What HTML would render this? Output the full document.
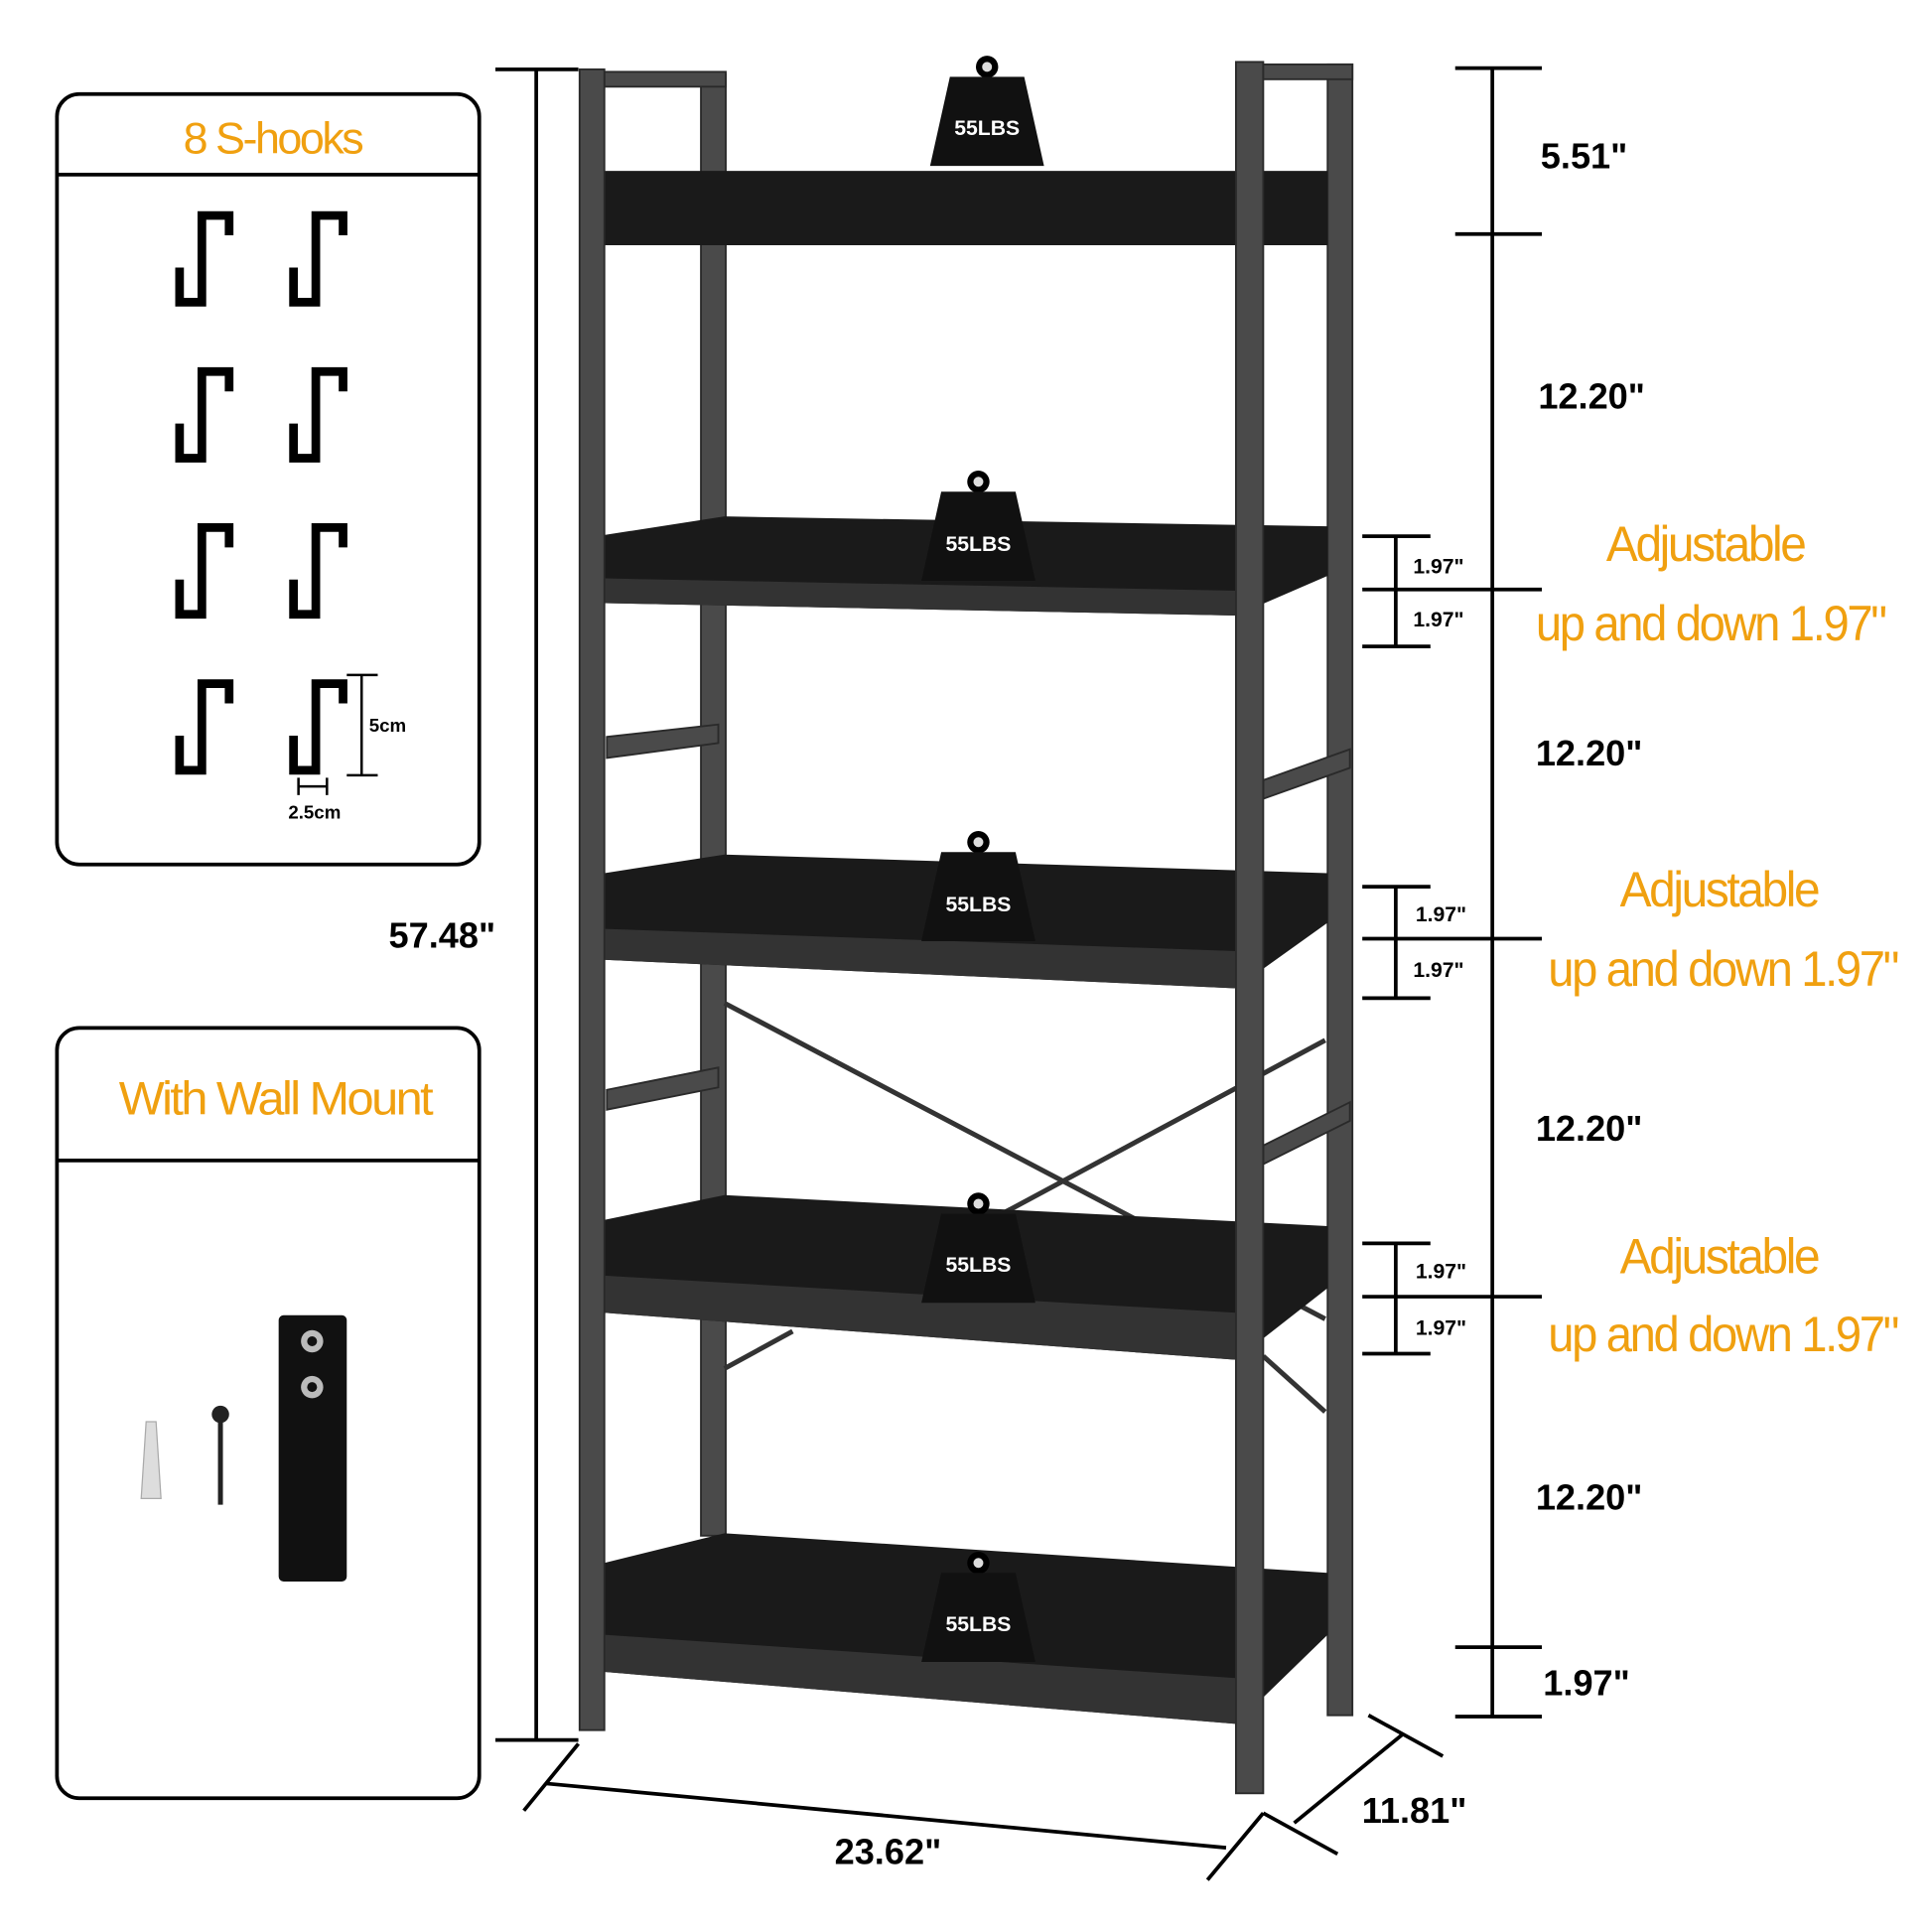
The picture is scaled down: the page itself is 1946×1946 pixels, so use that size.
<!DOCTYPE html>
<html><head><meta charset="utf-8"><style>
html,body{margin:0;padding:0;background:#fff;width:1946px;height:1946px;overflow:hidden}
svg{display:block}
.b{font-family:"Liberation Sans",sans-serif;font-weight:bold;fill:#000}
.o{font-family:"Liberation Sans Narrow","Liberation Sans",sans-serif;fill:#f0a010;letter-spacing:-2px}
.w{font-family:"Liberation Sans",sans-serif;font-weight:bold;fill:#fff;font-size:17px}
</style></head><body>
<svg width="1946" height="1946" viewBox="0 0 1560 1560" xmlns="http://www.w3.org/2000/svg">
<defs>
<g id="hook"><path d="M0,48 L0,76 L18,76 L18,6 L40,6 L40,22" fill="none" stroke="#000" stroke-width="7"/></g>
<g id="wt"><circle cx="0" cy="-8" r="9" fill="#000"/><circle cx="0" cy="-8" r="4" fill="#ddd"/><path d="M-30,0 L30,0 L46,72 L-46,72 Z" fill="#111"/></g>
</defs>
<!-- box 1 -->
<rect x="46" y="76" width="341" height="622" rx="18" fill="none" stroke="#000" stroke-width="3"/>
<line x1="46" y1="141" x2="387" y2="141" stroke="#000" stroke-width="3"/>
<text class="o" x="220" y="124" font-size="36" text-anchor="middle">8 S-hooks</text>
<use href="#hook" x="145" y="168"/><use href="#hook" x="237" y="168"/>
<use href="#hook" x="145" y="294"/><use href="#hook" x="237" y="294"/>
<use href="#hook" x="145" y="420"/><use href="#hook" x="237" y="420"/>
<use href="#hook" x="145" y="546"/><use href="#hook" x="237" y="546"/>
<line x1="280" y1="545" x2="305" y2="545" stroke="#000" stroke-width="2"/>
<line x1="280" y1="626" x2="305" y2="626" stroke="#000" stroke-width="2"/>
<line x1="292" y1="545" x2="292" y2="626" stroke="#000" stroke-width="2"/>
<text class="b" x="298" y="591" font-size="15">5cm</text>
<line x1="241" y1="628" x2="241" y2="642" stroke="#000" stroke-width="2"/>
<line x1="264" y1="628" x2="264" y2="642" stroke="#000" stroke-width="2"/>
<line x1="241" y1="635" x2="264" y2="635" stroke="#000" stroke-width="2"/>
<text class="b" x="254" y="661" font-size="15" text-anchor="middle">2.5cm</text>
<!-- box 2 -->
<rect x="46" y="830" width="341" height="622" rx="18" fill="none" stroke="#000" stroke-width="3"/>
<line x1="46" y1="937" x2="387" y2="937" stroke="#000" stroke-width="3"/>
<text class="o" x="96" y="900" font-size="38" textLength="252" lengthAdjust="spacingAndGlyphs">With Wall Mount</text>
<path d="M118,1148 L126,1148 L130,1210 L114,1210 Z" fill="#ddd" stroke="#aaa"/>
<circle cx="178" cy="1142" r="7" fill="#222"/>
<line x1="178" y1="1142" x2="178" y2="1215" stroke="#222" stroke-width="4"/>
<rect x="225" y="1062" width="55" height="215" rx="4" fill="#111"/>
<circle cx="252" cy="1083" r="9" fill="#bbb"/><circle cx="252" cy="1120" r="9" fill="#bbb"/>
<circle cx="252" cy="1083" r="4" fill="#111"/><circle cx="252" cy="1120" r="4" fill="#111"/>
<!-- 57.48 -->
<line x1="433" y1="56" x2="433" y2="1405" stroke="#000" stroke-width="3"/>
<line x1="400" y1="56" x2="467" y2="56" stroke="#000" stroke-width="3"/>
<line x1="400" y1="1405" x2="467" y2="1405" stroke="#000" stroke-width="3"/>
<text class="b" x="357" y="765" font-size="29" text-anchor="middle">57.48"</text>
<!-- frame back posts -->
<g fill="#4a4a4a" stroke="#2a2a2a" stroke-width="1.5">
<rect x="566" y="60" width="20" height="1180"/>
<rect x="1072" y="52" width="20" height="1333"/>
<rect x="488" y="58" width="98" height="12"/>
<path d="M490,595 L580,585 L580,600 L490,612Z"/>
<path d="M490,880 L580,862 L580,878 L490,896Z"/>
<path d="M1020,630 L1090,605 L1090,620 L1020,645Z"/>
<path d="M1020,925 L1090,890 L1090,905 L1020,940Z"/>
</g>
<line x1="585" y1="810" x2="1070" y2="1065" stroke="#333" stroke-width="4"/>
<line x1="1070" y1="840" x2="800" y2="985" stroke="#333" stroke-width="4"/>
<line x1="585" y1="1105" x2="640" y2="1075" stroke="#333" stroke-width="4"/>
<line x1="1020" y1="1095" x2="1070" y2="1140" stroke="#333" stroke-width="4"/>
<!-- shelves -->
<g fill="#1a1a1a">
<rect x="488" y="138" width="584" height="60"/>
<path d="M488,432 L585,417 L1072,425 L1072,465 L998,497 L488,487Z"/>
<path d="M488,705 L585,690 L1072,705 L1072,745 L998,798 L488,775Z"/>
<path d="M488,985 L585,965 L1072,990 L1072,1040 L998,1098 L488,1060Z"/>
<path d="M488,1262 L585,1238 L1072,1270 L1072,1320 L998,1392 L488,1350Z"/>
</g>
<g fill="#333">
<path d="M488,467 L998,477 L998,497 L488,487Z"/>
<path d="M488,750 L998,768 L998,798 L488,775Z"/>
<path d="M488,1030 L998,1060 L998,1098 L488,1060Z"/>
<path d="M488,1320 L998,1355 L998,1392 L488,1350Z"/>
</g>
<!-- front posts -->
<g fill="#4a4a4a" stroke="#2a2a2a" stroke-width="1.5">
<rect x="468" y="56" width="20" height="1341"/>
<rect x="998" y="50" width="22" height="1398"/>
<rect x="1020" y="52" width="72" height="12"/>
</g>
<!-- weights -->
<use href="#wt" x="797" y="62"/><text class="w" x="797" y="109" text-anchor="middle">55LBS</text>
<use href="#wt" x="790" y="397"/><text class="w" x="790" y="445" text-anchor="middle">55LBS</text>
<use href="#wt" x="790" y="688"/><text class="w" x="790" y="736" text-anchor="middle">55LBS</text>
<use href="#wt" x="790" y="980"/><text class="w" x="790" y="1027" text-anchor="middle">55LBS</text>
<use href="#wt" x="790" y="1270"/><text class="w" x="790" y="1317" text-anchor="middle">55LBS</text>
<!-- right dims -->
<g stroke="#000" stroke-width="3">
<line x1="1205" y1="55" x2="1205" y2="1386"/>
<line x1="1175" y1="55" x2="1245" y2="55"/>
<line x1="1175" y1="189" x2="1245" y2="189"/>
<line x1="1100" y1="476" x2="1245" y2="476"/>
<line x1="1100" y1="758" x2="1245" y2="758"/>
<line x1="1100" y1="1047" x2="1245" y2="1047"/>
<line x1="1175" y1="1330" x2="1245" y2="1330"/>
<line x1="1175" y1="1386" x2="1245" y2="1386"/>
<line x1="1127" y1="433" x2="1127" y2="522"/>
<line x1="1100" y1="433" x2="1155" y2="433"/><line x1="1100" y1="522" x2="1155" y2="522"/>
<line x1="1127" y1="716" x2="1127" y2="806"/>
<line x1="1100" y1="716" x2="1155" y2="716"/><line x1="1100" y1="806" x2="1155" y2="806"/>
<line x1="1127" y1="1004" x2="1127" y2="1093"/>
<line x1="1100" y1="1004" x2="1155" y2="1004"/><line x1="1100" y1="1093" x2="1155" y2="1093"/>
<line x1="440" y1="1440" x2="990" y2="1492"/>
<line x1="423" y1="1462" x2="467" y2="1408"/>
<line x1="975" y1="1518" x2="1020" y2="1464"/>
<line x1="1045" y1="1472" x2="1133" y2="1400"/>
<line x1="1020" y1="1464" x2="1080" y2="1497"/>
<line x1="1105" y1="1385" x2="1165" y2="1418"/>
</g>
<g class="b">
<text class="b" x="1244" y="136" font-size="29">5.51"</text>
<text class="b" x="1242" y="330" font-size="29">12.20"</text>
<text class="b" x="1240" y="618" font-size="29">12.20"</text>
<text class="b" x="1240" y="921" font-size="29">12.20"</text>
<text class="b" x="1240" y="1219" font-size="29">12.20"</text>
<text class="b" x="1246" y="1369" font-size="29">1.97"</text>
<text class="b" x="717" y="1505" font-size="29" text-anchor="middle">23.62"</text>
<text class="b" x="1142" y="1472" font-size="29" text-anchor="middle">11.81"</text>
<text class="b" x="1141" y="463" font-size="17">1.97"</text>
<text class="b" x="1141" y="506" font-size="17">1.97"</text>
<text class="b" x="1143" y="744" font-size="17">1.97"</text>
<text class="b" x="1141" y="789" font-size="17">1.97"</text>
<text class="b" x="1143" y="1032" font-size="17">1.97"</text>
<text class="b" x="1143" y="1078" font-size="17">1.97"</text>
</g>
<text class="o" x="1297" y="453" font-size="40" textLength="160" lengthAdjust="spacingAndGlyphs">Adjustable</text>
<text class="o" x="1240" y="517" font-size="40" textLength="282" lengthAdjust="spacingAndGlyphs">up and down 1.97"</text>
<text class="o" x="1308" y="732" font-size="40" textLength="160" lengthAdjust="spacingAndGlyphs">Adjustable</text>
<text class="o" x="1250" y="796" font-size="40" textLength="282" lengthAdjust="spacingAndGlyphs">up and down 1.97"</text>
<text class="o" x="1308" y="1028" font-size="40" textLength="160" lengthAdjust="spacingAndGlyphs">Adjustable</text>
<text class="o" x="1250" y="1091" font-size="40" textLength="282" lengthAdjust="spacingAndGlyphs">up and down 1.97"</text>
</svg>
</body></html>
